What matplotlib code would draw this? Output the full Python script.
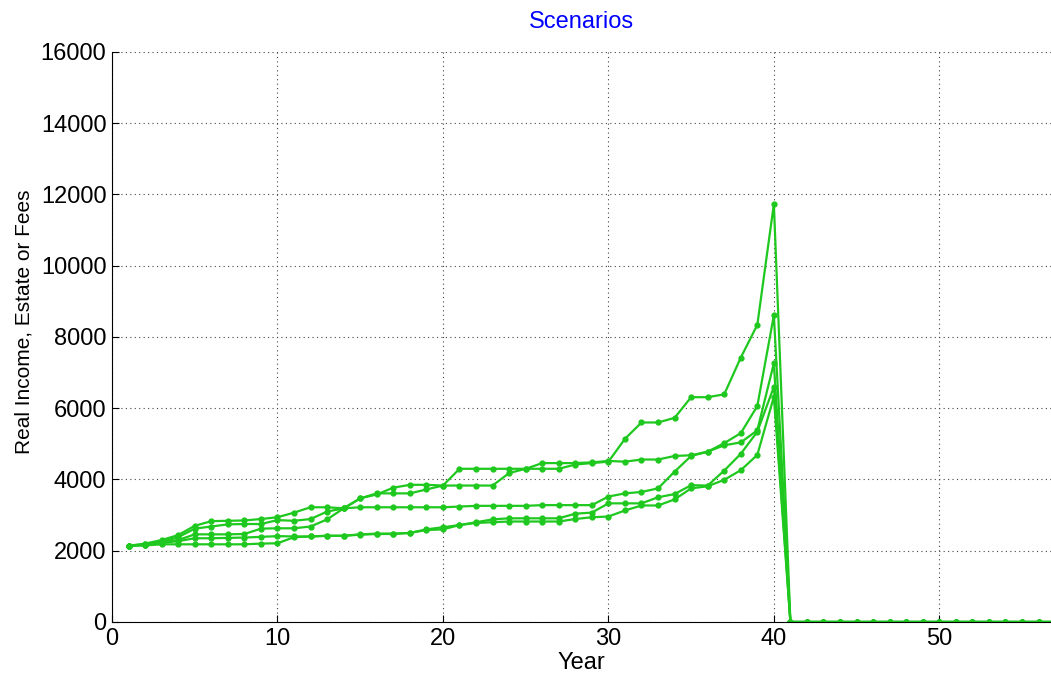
import matplotlib
matplotlib.use('Agg')
import matplotlib.pyplot as plt
import numpy as np

plt.rcParams['font.family'] = ['Liberation Sans', 'DejaVu Sans']

years = list(range(1, 58))

# real income per scenario, years 1..40 (estate paid out after year 40)
s1 = [2140, 2200, 2300, 2440, 2700, 2830, 2840, 2850, 2890, 2940,
      3070, 3220, 3220, 3190, 3470, 3580, 3770, 3850, 3850, 3830,
      4300, 4300, 4300, 4300, 4300, 4300, 4300, 4420, 4460, 4500,
      5140, 5600, 5600, 5730, 6310, 6310, 6390, 7420, 8340, 11730]
s2 = [2140, 2180, 2250, 2380, 2620, 2680, 2740, 2750, 2750, 2860,
      2840, 2890, 3100, 3190, 3470, 3610, 3610, 3610, 3720, 3830,
      3830, 3830, 3830, 4180, 4300, 4460, 4460, 4460, 4480, 4520,
      4500, 4560, 4560, 4660, 4680, 4780, 5020, 5300, 6060, 8610]
s3 = [2140, 2170, 2230, 2300, 2460, 2460, 2460, 2470, 2620, 2630,
      2630, 2680, 2880, 3190, 3220, 3220, 3220, 3220, 3220, 3220,
      3240, 3260, 3260, 3260, 3260, 3280, 3280, 3280, 3280, 3520,
      3610, 3650, 3750, 4220, 4660, 4780, 4960, 5040, 5380, 7260]
s4 = [2140, 2160, 2220, 2270, 2350, 2350, 2360, 2370, 2390, 2410,
      2400, 2400, 2420, 2420, 2460, 2480, 2480, 2500, 2600, 2660,
      2720, 2800, 2880, 2910, 2910, 2910, 2910, 3040, 3070, 3330,
      3330, 3330, 3500, 3590, 3840, 3830, 4250, 4720, 5340, 6600]
s5 = [2140, 2150, 2180, 2180, 2180, 2180, 2180, 2180, 2200, 2210,
      2380, 2400, 2420, 2420, 2450, 2470, 2470, 2500, 2580, 2600,
      2720, 2780, 2800, 2820, 2820, 2820, 2820, 2890, 2940, 2960,
      3130, 3270, 3270, 3440, 3750, 3810, 3990, 4260, 4690, 6320]
after = [0] * 17  # years 41..57

fig = plt.figure(figsize=(10.51, 6.82), dpi=100)
ax = fig.add_axes([0.1066, 0.088, 0.8934, 0.8358])

for s in (s1, s2, s3, s4, s5):
    ax.plot(years, s + after, color='#1ec81e', lw=1.6, marker='.', ms=7)

ax.set_xlim(0, 56.75)
ax.set_ylim(0, 16000)
ax.set_xticks([0, 10, 20, 30, 40, 50])
ax.set_yticks(np.arange(0, 16001, 2000))
ax.grid(True, linestyle=(0, (1, 3)), color='#444444', lw=0.8)
ax.spines['top'].set_visible(False)
ax.spines['right'].set_visible(False)
ax.tick_params(direction='in', length=5, labelsize=17, pad=4, top=False, right=False)

ax.set_title('Scenarios', color='blue', fontsize=17, pad=17)
ax.set_xlabel('Year', fontsize=17, labelpad=2)
ax.set_ylabel('Real Income, Estate or Fees', fontsize=15)
ax.yaxis.set_label_coords(-0.084, 0.526)

fig.savefig('out.png', dpi=100)
